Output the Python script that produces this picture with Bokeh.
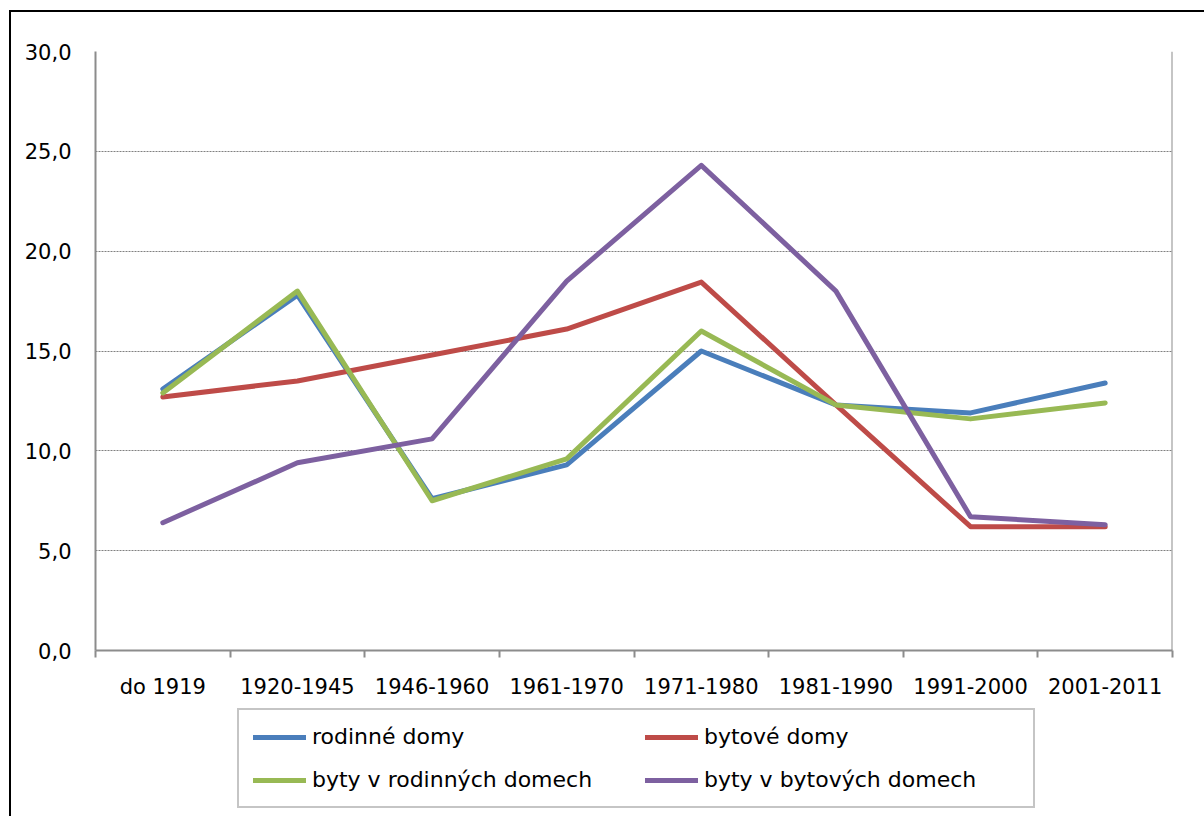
from bokeh.plotting import figure
from bokeh.layouts import column
from bokeh.models import Range1d, FixedTicker, Legend, LegendItem, Span
from bokeh.embed import file_html
from bokeh.resources import INLINE

categories = ["do 1919", "1920-1945", "1946-1960", "1961-1970",
              "1971-1980", "1981-1990", "1991-2000", "2001-2011"]
rodinne_domy = [13.1, 17.8, 7.6, 9.3, 15.0, 12.3, 11.9, 13.4]
bytove_domy = [12.7, 13.5, 14.8, 16.1, 18.45, 12.3, 6.2, 6.2]
byty_v_rodinnych = [12.9, 18.0, 7.5, 9.6, 16.0, 12.3, 11.6, 12.4]
byty_v_bytovych = [6.4, 9.4, 10.6, 18.5, 24.3, 18.0, 6.7, 6.3]
series_names = ["rodinné domy", "bytové domy",
                "byty v rodinných domech", "byty v bytových domech"]
series_values = [rodinne_domy, bytove_domy, byty_v_rodinnych, byty_v_bytovych]
colors = ["#4A7EBB", "#BE4B48", "#98B954", "#7D60A0"]
y_ticks = [0, 5, 10, 15, 20, 25, 30]

FONT = "DejaVu Sans"
AXIS_GRAY = "#8C8C8C"
W = 1204
H_MAIN = 706
H_LEG = 110

n = len(categories)
centers = [i + 0.5 for i in range(n)]
bounds = [i for i in range(n + 1)]

p = figure(width=W, height=H_MAIN, output_backend="svg", toolbar_location=None,
           x_range=Range1d(0, n), y_range=Range1d(y_ticks[0], y_ticks[-1]),
           min_border_left=95, min_border_right=32, min_border_top=51,
           min_border_bottom=56)
p.border_fill_color = None
p.background_fill_color = "white"
p.outline_line_color = None

# y axis
p.yaxis.ticker = FixedTicker(ticks=y_ticks)
p.yaxis.major_label_overrides = {t: f"{t:.1f}".replace(".", ",") for t in y_ticks}
p.yaxis.major_tick_out = 0
p.yaxis.major_tick_in = 0
p.yaxis.minor_tick_out = 0
p.yaxis.minor_tick_in = 0
p.yaxis.major_label_standoff = 24
p.yaxis.axis_line_color = AXIS_GRAY
p.yaxis.axis_line_width = 2
p.yaxis.major_label_text_font = FONT
p.yaxis.major_label_text_font_size = "21px"
p.yaxis.major_label_text_color = "black"

# x axis
p.xaxis.ticker = FixedTicker(ticks=centers, minor_ticks=bounds)
p.xaxis.major_label_overrides = {c: lab for c, lab in zip(centers, categories)}
p.xaxis.major_tick_out = 0
p.xaxis.major_tick_in = 0
p.xaxis.minor_tick_out = 7
p.xaxis.minor_tick_in = 0
p.xaxis.minor_tick_line_color = AXIS_GRAY
p.xaxis.minor_tick_line_width = 2
p.xaxis.axis_line_color = AXIS_GRAY
p.xaxis.axis_line_width = 2
p.xaxis.major_label_standoff = 17
p.xaxis.major_label_text_font = FONT
p.xaxis.major_label_text_font_size = "21px"
p.xaxis.major_label_text_color = "black"

p.xgrid.visible = False
p.ygrid.grid_line_color = "#808080"
p.ygrid.grid_line_width = 1
p.ygrid.grid_line_dash = "2 1"

p.add_layout(Span(location=n, dimension="height", line_color=AXIS_GRAY, line_width=2))

for name, vals, col in zip(series_names, series_values, colors):
    p.line(x=centers, y=vals, line_color=col, line_width=5,
           line_join="round", line_cap="round")

# legend strip below the chart (its own lines fall outside its visible range)
p2 = figure(width=W, height=H_LEG, output_backend="svg", toolbar_location=None,
            x_range=Range1d(0, n), y_range=Range1d(-2, -1),
            min_border=0, x_axis_location=None, y_axis_location=None)
p2.border_fill_color = None
p2.background_fill_color = None
p2.outline_line_color = None
p2.xgrid.visible = False
p2.ygrid.visible = False

leg_renderers = []
for name, vals, col in zip(series_names, series_values, colors):
    r = p2.line(x=centers, y=vals, line_color=col, line_width=5, line_cap="round")
    leg_renderers.append(r)

legend = Legend(items=[LegendItem(label=nm, renderers=[r]) for nm, r in zip(series_names, leg_renderers)],
                orientation="horizontal", ncols=2, location=(142, 8),
                border_line_color="#8C8C8C", border_line_width=2,
                padding=14, spacing=18, glyph_width=53, glyph_height=20,
                label_standoff=6, label_width=315, margin=0,
                label_text_font=FONT, label_text_font_size="22px",
                label_text_color="black",
                background_fill_color="white", background_fill_alpha=1.0)
p2.add_layout(legend)

layout = column(p, p2, spacing=0)
layout.styles = {"box-shadow": "inset 9px 10px 0 0 white, inset 11px 12px 0 0 black"}
open("out.html", "w").write(file_html(layout, INLINE))
